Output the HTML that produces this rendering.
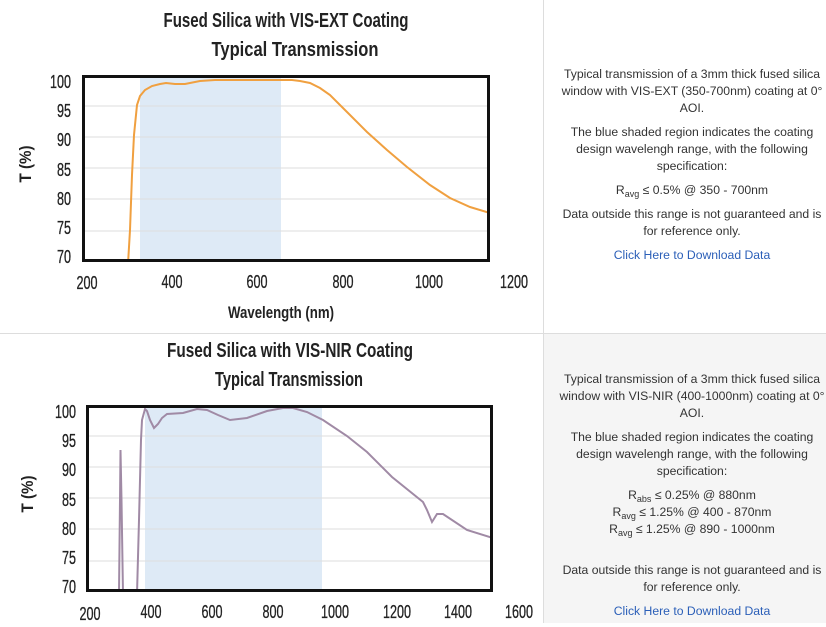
<!DOCTYPE html>
<html><head><meta charset="utf-8"><style>
body{margin:0;width:826px;height:623px;overflow:hidden;background:#fff;position:relative;font-family:"Liberation Sans",sans-serif}
.r{position:absolute;left:557px;width:270px;text-align:center;font-size:12.2px;color:#333;line-height:17px}
.r p{margin:0 0 7px 0}
sub{font-size:9px;line-height:0;vertical-align:-3px}
a{color:#2b5fb8;text-decoration:none}
</style></head><body>
<div style="position:absolute;left:543px;top:0;width:1px;height:623px;background:#ddd"></div>
<div style="position:absolute;left:0;top:333px;width:826px;height:1px;background:#ddd"></div>
<div style="position:absolute;left:544px;top:334px;width:282px;height:289px;background:#f5f5f5"></div>
<svg width="543" height="623" style="position:absolute;left:0;top:0" font-family="Liberation Sans, sans-serif">
<defs><clipPath id="c1"><rect x="82" y="75" width="408" height="187"/></clipPath>
<clipPath id="c2"><rect x="86" y="405" width="407" height="187"/></clipPath></defs>
<g font-weight="bold" fill="#222" text-anchor="middle" font-size="20">
<text x="286" y="27" textLength="245" lengthAdjust="spacingAndGlyphs">Fused Silica with VIS-EXT Coating</text>
<text x="295" y="56" textLength="167" lengthAdjust="spacingAndGlyphs">Typical Transmission</text>
<text x="281" y="318" font-size="17" textLength="106" lengthAdjust="spacingAndGlyphs">Wavelength (nm)</text>
<text transform="translate(31,164) rotate(-90)" font-size="17" textLength="37" lengthAdjust="spacingAndGlyphs">T (%)</text>
<text x="290" y="357" textLength="246" lengthAdjust="spacingAndGlyphs">Fused Silica with VIS-NIR Coating</text>
<text x="289" y="386" textLength="148" lengthAdjust="spacingAndGlyphs">Typical Transmission</text>
<text transform="translate(33,494) rotate(-90)" font-size="17" textLength="37" lengthAdjust="spacingAndGlyphs">T (%)</text>
</g>
<rect x="140" y="75" width="141" height="187" fill="#deeaf6"/>
<g stroke="#ddd" stroke-width="1"><line x1="82" x2="490" y1="106" y2="106"/><line x1="82" x2="490" y1="137" y2="137"/><line x1="82" x2="490" y1="168" y2="168"/><line x1="82" x2="490" y1="199" y2="199"/><line x1="82" x2="490" y1="231" y2="231"/></g>
<g clip-path="url(#c1)"><polyline fill="none" stroke="#f0a040" stroke-width="2" points="128,264 130,230 132,175 134,135 137,105 140,96 145,90 152,86 160,84 166,83 175,84 185,84 200,81 215,80 250,80 280,80 292,80 300,81 310,83 320,88 330,95 347,112 367,132 387,150 407,167 430,185 450,198 470,207 490,213"/></g>
<rect x="83.5" y="76.5" width="405" height="184" fill="none" stroke="#111" stroke-width="3"/>
<g font-size="18" fill="#222" text-anchor="end" stroke="#222" stroke-width="0.3">
<text x="71" y="88" textLength="21" lengthAdjust="spacingAndGlyphs">100</text><text x="71" y="117" textLength="14" lengthAdjust="spacingAndGlyphs">95</text><text x="71" y="146" textLength="14" lengthAdjust="spacingAndGlyphs">90</text><text x="71" y="176" textLength="14" lengthAdjust="spacingAndGlyphs">85</text><text x="71" y="205" textLength="14" lengthAdjust="spacingAndGlyphs">80</text><text x="71" y="234" textLength="14" lengthAdjust="spacingAndGlyphs">75</text><text x="71" y="263" textLength="14" lengthAdjust="spacingAndGlyphs">70</text>
</g>
<g font-size="18" fill="#222" text-anchor="middle" stroke="#222" stroke-width="0.3">
<text x="87" y="289" textLength="21" lengthAdjust="spacingAndGlyphs">200</text><text x="172" y="288" textLength="21" lengthAdjust="spacingAndGlyphs">400</text><text x="257" y="288" textLength="21" lengthAdjust="spacingAndGlyphs">600</text><text x="343" y="288" textLength="21" lengthAdjust="spacingAndGlyphs">800</text><text x="429" y="288" textLength="28" lengthAdjust="spacingAndGlyphs">1000</text><text x="514" y="288" textLength="28" lengthAdjust="spacingAndGlyphs">1200</text>
</g>
<rect x="145" y="405" width="177" height="187" fill="#deeaf6"/>
<g stroke="#ddd" stroke-width="1"><line x1="86" x2="493" y1="436" y2="436"/><line x1="86" x2="493" y1="467" y2="467"/><line x1="86" x2="493" y1="498" y2="498"/><line x1="86" x2="493" y1="529" y2="529"/><line x1="86" x2="493" y1="561" y2="561"/></g>
<g clip-path="url(#c2)" fill="none" stroke="#a08aa5" stroke-width="2">
<polyline points="119,594 120,500 120.5,450 121.5,500 123,594"/>
<polyline points="137,594 139,520 141,440 142,420 145,409 147,411 150,420 154,428 158,424 162,418 167,414 183,413 197,409 207,410 218,415 230,420 247,418 267,411 283,408 293,408 307,412 323,420 347,436 367,452 392,477 423,502 427,510 432,522 437,514 443,514 467,530 493,538"/></g>
<rect x="87.5" y="406.5" width="404" height="184" fill="none" stroke="#111" stroke-width="3"/>
<g font-size="18" fill="#222" text-anchor="end" stroke="#222" stroke-width="0.3">
<text x="76" y="418" textLength="21" lengthAdjust="spacingAndGlyphs">100</text><text x="76" y="447" textLength="14" lengthAdjust="spacingAndGlyphs">95</text><text x="76" y="476" textLength="14" lengthAdjust="spacingAndGlyphs">90</text><text x="76" y="506" textLength="14" lengthAdjust="spacingAndGlyphs">85</text><text x="76" y="535" textLength="14" lengthAdjust="spacingAndGlyphs">80</text><text x="76" y="564" textLength="14" lengthAdjust="spacingAndGlyphs">75</text><text x="76" y="593" textLength="14" lengthAdjust="spacingAndGlyphs">70</text>
</g>
<g font-size="18" fill="#222" text-anchor="middle" stroke="#222" stroke-width="0.3">
<text x="90" y="620" textLength="21" lengthAdjust="spacingAndGlyphs">200</text><text x="151" y="618" textLength="21" lengthAdjust="spacingAndGlyphs">400</text><text x="212" y="618" textLength="21" lengthAdjust="spacingAndGlyphs">600</text><text x="273" y="618" textLength="21" lengthAdjust="spacingAndGlyphs">800</text><text x="335" y="618" textLength="28" lengthAdjust="spacingAndGlyphs">1000</text><text x="397" y="618" textLength="28" lengthAdjust="spacingAndGlyphs">1200</text><text x="458" y="618" textLength="28" lengthAdjust="spacingAndGlyphs">1400</text><text x="519" y="618" textLength="28" lengthAdjust="spacingAndGlyphs">1600</text>
</g>
</svg>
<div class="r" style="top:66px">
<p>Typical transmission of a 3mm thick fused silica window with VIS-EXT (350-700nm) coating at 0° AOI.</p>
<p>The blue shaded region indicates the coating design wavelengh range, with the following specification:</p>
<p>R<sub>avg</sub> ≤ 0.5% @ 350 - 700nm</p>
<p>Data outside this range is not guaranteed and is for reference only.</p>
<p><a>Click Here to Download Data</a></p>
</div>
<div class="r" style="top:371px">
<p>Typical transmission of a 3mm thick fused silica window with VIS-NIR (400-1000nm) coating at 0° AOI.</p>
<p>The blue shaded region indicates the coating design wavelengh range, with the following specification:</p>
<p>R<sub>abs</sub> ≤ 0.25% @ 880nm<br>R<sub>avg</sub> ≤ 1.25% @ 400 - 870nm<br>R<sub>avg</sub> ≤ 1.25% @ 890 - 1000nm</p>
<p style="margin-top:24px">Data outside this range is not guaranteed and is for reference only.</p>
<p><a>Click Here to Download Data</a></p>
</div>
</body></html>
